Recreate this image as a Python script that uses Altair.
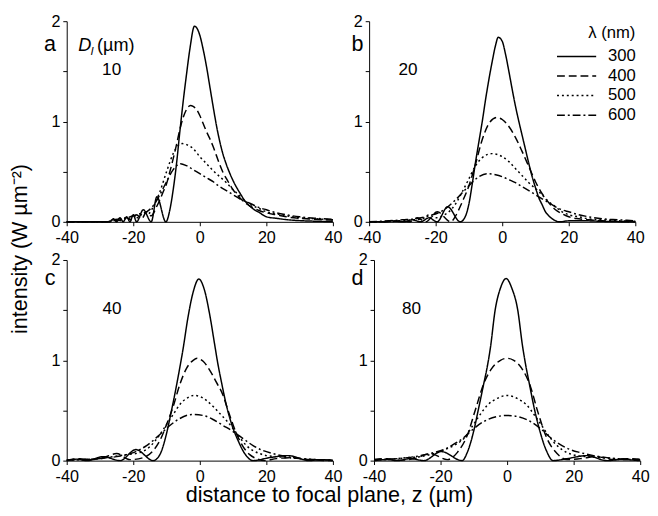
import altair as alt
import pandas as pd

FONT = "Liberation Sans"
LAMBDAS = ["300", "400", "500", "600"]
DASHES = [[1, 0], [8, 4], [2, 3], [8, 3, 2, 3]]

# ---------------- panel a : D = 10 um ----------------
A300_Z = [-40, -27, -26, -25, -24, -23, -22, -21, -20, -19, -17, -14.6, -12.9, -10.2, -9, -8, -7, -6, -5, -4, -3,
          -1.6, 0, 1, 2, 3, 4, 5, 6, 7, 8, 10, 12, 14, 16, 18, 20, 23, 26, 30, 35, 40]
A300_V = [0, 0, 0.03, 0, 0.04, 0, 0.05, 0, 0.07, 0, 0.12, 0, 0.25, 0, 0.12, 0.32, 0.58, 0.9, 1.2, 1.47, 1.72,
          1.95, 1.86, 1.72, 1.55, 1.35, 1.15, 0.96, 0.8, 0.67, 0.57, 0.41, 0.29, 0.19, 0.13, 0.09, 0.05, 0.035,
          0.022, 0.012, 0.006, 0.003]
A400_Z = [-40, -27, -25, -23.5, -22, -20.5, -19, -17.5, -16, -14.6, -13, -12, -11, -10, -9, -8, -7, -6, -5, -4,
          -2.8, -2, -1, 0, 1, 2, 3, 4, 5, 6, 7, 8, 10, 12, 14, 16, 18, 20, 23, 26, 30, 35, 40]
A400_V = [0, 0, 0.02, 0.01, 0.04, 0.02, 0.07, 0.03, 0.1, 0.06, 0.15, 0.22, 0.3, 0.38, 0.5, 0.63, 0.77, 0.92,
          1.04, 1.12, 1.16, 1.15, 1.12, 1.06, 0.98, 0.9, 0.83, 0.75, 0.66, 0.57, 0.49, 0.43, 0.32, 0.24, 0.18,
          0.14, 0.11, 0.09, 0.07, 0.05, 0.035, 0.025, 0.018]
A500_Z = [-40, -28, -26, -24.5, -23, -21.5, -20, -18.5, -17, -15.5, -14, -12, -10, -8, -6.5, -5.3, -4, -2,
          0, 2, 4, 6, 8, 10, 12, 14, 16, 18, 20, 23, 26, 30, 35, 40]
A500_V = [0, 0, 0.02, 0.01, 0.04, 0.02, 0.06, 0.04, 0.09, 0.08, 0.15, 0.3, 0.5, 0.68, 0.76, 0.78, 0.77, 0.73,
          0.65, 0.58, 0.51, 0.45, 0.39, 0.32, 0.26, 0.2, 0.16, 0.13, 0.1, 0.08, 0.06, 0.04, 0.03, 0.02]
A600_Z = [-40, -28, -26, -24, -22, -20, -18, -16, -14, -12, -10, -8, -5.8, -4, -2, 0, 2, 4, 6, 8,
          10, 12, 14, 16, 18, 20, 23, 26, 30, 35, 40]
A600_V = [0, 0, 0.02, 0.03, 0.04, 0.06, 0.08, 0.1, 0.16, 0.27, 0.4, 0.52, 0.58, 0.56, 0.52, 0.48, 0.44, 0.4,
          0.35, 0.31, 0.27, 0.23, 0.2, 0.17, 0.14, 0.12, 0.09, 0.07, 0.05, 0.035, 0.025]

# ---------------- panel b : D = 20 um ----------------
B300_Z = [-40, -36, -33, -30, -27, -24.5, -22, -19.6, -16.4, -12.6, -11, -10, -9, -8, -7, -6, -5, -4, -3, -2,
          -1.2, 0, 1, 2, 3, 4, 5, 6, 7, 8, 9, 10, 11, 12, 13, 14, 15.5, 17.3, 20, 25, 30, 40]
B300_V = [0, 0, 0.01, 0, 0.02, 0, 0.04, 0, 0.15, 0, 0.06, 0.18, 0.38, 0.6, 0.8, 1.0, 1.22, 1.42, 1.6, 1.76,
          1.84, 1.8, 1.67, 1.5, 1.32, 1.15, 1.0, 0.86, 0.72, 0.58, 0.45, 0.34, 0.24, 0.17, 0.1, 0.06, 0.02, 0,
          0.01, 0.01, 0.005, 0]
B400_Z = [-40, -34, -31, -28, -25.5, -23, -19.5, -15.5, -14, -12, -10, -8, -6, -4, -1.6, 0, 2, 4, 6, 8,
          10, 12, 14, 16, 18, 20, 23, 26, 30, 35, 40]
B400_V = [0, 0, 0.01, 0, 0.04, 0, 0.1, 0, 0.06, 0.2, 0.36, 0.58, 0.82, 0.98, 1.04, 1.02, 0.95, 0.84, 0.7, 0.55,
          0.4, 0.28, 0.19, 0.12, 0.08, 0.05, 0.03, 0.02, 0.01, 0.005, 0]
B500_Z = [-40, -33, -30, -27, -24, -22, -20, -18, -16, -14, -12, -10, -8, -6, -3.1, 0, 2, 4, 6, 8,
          10, 12, 14, 16, 18, 20, 23, 26, 30, 35, 40]
B500_V = [0, 0.005, 0.01, 0.02, 0.03, 0.07, 0.04, 0.06, 0.1, 0.18, 0.3, 0.43, 0.56, 0.64, 0.68, 0.65, 0.6, 0.53,
          0.46, 0.39, 0.33, 0.27, 0.2, 0.15, 0.1, 0.07, 0.05, 0.03, 0.02, 0.01, 0.005]
B600_Z = [-40, -34, -30, -26, -22, -18, -14, -10, -7, -4.6, -2, 0, 2, 4, 6, 8, 10, 12, 14, 16,
          18, 20, 23, 26, 30, 35, 40]
B600_V = [0, 0.01, 0.02, 0.03, 0.06, 0.11, 0.22, 0.36, 0.45, 0.48, 0.47, 0.45, 0.42, 0.39, 0.35, 0.31, 0.27,
          0.23, 0.19, 0.15, 0.12, 0.1, 0.07, 0.05, 0.03, 0.02, 0.01]

# ---------------- panel c : D = 40 um ----------------
C300_Z = [-40, -37, -34, -29, -24, -19.2, -14, -12, -10, -8.7, -7, -6, -5, -3.6, -2, -0.3, 1.4, 3, 4.4, 5.4,
          6.4, 8, 9.6, 11.5, 13.5, 16, 21, 26.5, 33, 36, 40]
C300_V = [0, 0.015, 0, 0.04, 0, 0.11, 0, 0.06, 0.27, 0.47, 0.75, 0.93, 1.12, 1.42, 1.68, 1.81, 1.7, 1.45, 1.17,
          0.97, 0.8, 0.55, 0.36, 0.2, 0.07, 0, 0.03, 0.05, 0, 0.01, 0]
C400_Z = [-40, -36, -33, -29, -25, -21, -17, -14, -12, -10, -8, -6, -4, -2, -0.8, 1, 3, 5, 7, 8,
          9, 11, 13, 15, 17, 19.5, 23, 28, 33, 40]
C400_V = [0.005, 0.02, 0.01, 0.03, 0.07, 0.01, 0.03, 0.1, 0.2, 0.36, 0.54, 0.76, 0.92, 1.0, 1.02, 0.99, 0.9,
          0.78, 0.65, 0.55, 0.45, 0.27, 0.14, 0.06, 0.02, 0, 0.02, 0.03, 0.01, 0]
C500_Z = [-40, -35, -30, -26, -22, -18, -15, -12, -10, -8, -6, -4, -1.8, 0, 2, 4, 6, 8, 10, 12,
          14, 16, 18, 20, 23, 26, 30, 35, 40]
C500_V = [0.005, 0.01, 0.02, 0.04, 0.06, 0.08, 0.14, 0.26, 0.36, 0.46, 0.56, 0.62, 0.65, 0.64, 0.6, 0.54, 0.47,
          0.4, 0.32, 0.23, 0.15, 0.1, 0.07, 0.05, 0.04, 0.03, 0.02, 0.01, 0.005]
C600_Z = [-40, -35, -30, -25, -20, -16, -12, -9, -6, -2.3, 1, 4, 7, 10, 13, 16, 19, 22, 26, 30, 35, 40]
C600_V = [0.005, 0.01, 0.02, 0.04, 0.08, 0.15, 0.26, 0.35, 0.42, 0.46, 0.45, 0.41, 0.35, 0.29, 0.22, 0.15, 0.1,
          0.07, 0.04, 0.02, 0.01, 0.005]

# ---------------- panel d : D = 80 um ----------------
D300_Z = [-40, -36, -33, -29, -25, -19.8, -13.5, -12, -10, -8.7, -7, -6, -5, -3.6, -2, -0.3, 1.4, 3.2, 4.6, 5.6,
          6.6, 8.3, 9.8, 11.8, 13.8, 18, 24, 30, 34, 40]
D300_V = [0, 0.01, 0, 0.02, 0, 0.09, 0, 0.08, 0.3, 0.5, 0.77, 0.93, 1.13, 1.5, 1.72, 1.815, 1.72, 1.5, 1.15, 0.95,
          0.78, 0.5, 0.3, 0.1, 0, 0.02, 0.05, 0, 0.01, 0]
D400_Z = [-40, -36, -32, -28, -23, -18, -15, -12, -9.6, -7, -4.6, -2, 0, 2, 4.4, 7, 9.1, 12, 15, 18,
          22, 27, 32, 36, 40]
D400_V = [0.01, 0.02, 0.005, 0.02, 0.07, 0.01, 0.08, 0.25, 0.5, 0.77, 0.92, 1.0, 1.02, 1.0, 0.92, 0.74, 0.5, 0.22,
          0.07, 0.01, 0.02, 0.04, 0.01, 0.02, 0.01]
D500_Z = [-40, -35, -30, -26, -22, -18, -15, -13, -10.5, -8.5, -6, -3, 0, 3, 6, 8.3, 10, 12, 15, 18,
          21, 24, 28, 32, 36, 40]
D500_V = [0.01, 0.015, 0.03, 0.04, 0.07, 0.12, 0.17, 0.22, 0.34, 0.44, 0.55, 0.62, 0.65, 0.62, 0.55, 0.45, 0.37,
          0.27, 0.15, 0.08, 0.05, 0.04, 0.03, 0.02, 0.015, 0.01]
D600_Z = [-40, -35, -30, -26, -22, -19, -16.7, -13, -10.7, -7, -3, 0, 3, 7, 10.7, 13, 16.5, 19, 22, 26, 30, 35, 40]
D600_V = [0.01, 0.015, 0.03, 0.05, 0.08, 0.11, 0.15, 0.23, 0.3, 0.39, 0.44, 0.45, 0.44, 0.39, 0.3, 0.23, 0.15,
          0.11, 0.08, 0.05, 0.03, 0.015, 0.01]

PANEL_LETTERS = ["a", "b", "c", "d"]
PANEL_D = ["10", "20", "40", "80"]
PANEL_SERIES = [
    [(A300_Z, A300_V), (A400_Z, A400_V), (A500_Z, A500_V), (A600_Z, A600_V)],
    [(B300_Z, B300_V), (B400_Z, B400_V), (B500_Z, B500_V), (B600_Z, B600_V)],
    [(C300_Z, C300_V), (C400_Z, C400_V), (C500_Z, C500_V), (C600_Z, C600_V)],
    [(D300_Z, D300_V), (D400_Z, D400_V), (D500_Z, D500_V), (D600_Z, D600_V)],
]

W, H = 272, 205
TICK_FS = 16.5
X_DOMAIN = [-40, 40]
Y_DOMAIN = [0, 2]


def frame(pairs):
    parts = []
    for lam, (zs, vs) in zip(LAMBDAS, pairs):
        parts.append(pd.DataFrame({"z": zs, "v": vs, "lam": lam}))
    return pd.concat(parts, ignore_index=True)


x_axis = alt.Axis(values=list(range(-40, 41, 10)),
                  labelExpr="datum.value % 20 == 0 ? '' + datum.value : ''",
                  title=None, grid=False, tickSize=4, labelFontSize=TICK_FS, labelPadding=4,
                  labelFont=FONT, labelColor="black", domainColor="black", tickColor="black",
                  labelFlush=False, labelOverlap=False)
y_axis = alt.Axis(values=[0, 0.5, 1, 1.5, 2],
                  labelExpr="datum.value % 1 == 0 ? '' + datum.value : ''",
                  title=None, grid=False, tickSize=4, labelFontSize=TICK_FS, labelPadding=3,
                  labelFont=FONT, labelColor="black", domainColor="black", tickColor="black",
                  labelFlush=False, labelOverlap=False)

xs = alt.Scale(domain=X_DOMAIN, nice=False, zero=False)
ys = alt.Scale(domain=Y_DOMAIN, nice=False, zero=False)


def xd(val):
    return {"datum": val, "type": "quantitative",
            "scale": {"domain": X_DOMAIN, "nice": False, "zero": False}}


def yd(val):
    return {"datum": val, "type": "quantitative",
            "scale": {"domain": Y_DOMAIN, "nice": False, "zero": False}}


def note(text, xv, yv, size, style="normal", align="center"):
    return alt.Chart().mark_text(font=FONT, fontSize=size, fontStyle=style, align=align,
                                 baseline="alphabetic", color="black").encode(
        x=xd(xv), y=yd(yv), text=alt.value(text))


def panel(i):
    df = frame(PANEL_SERIES[i])
    if i == 1:
        legend = alt.Legend(title="λ (nm)", orient="none", legendX=201, legendY=4,
                            symbolType="M-2,0H2", symbolSize=400, symbolStrokeWidth=1.5,
                            symbolStrokeColor="black", symbolFillColor="transparent",
                            labelFontSize=17, titleFontSize=17,
                            titleFontWeight="normal", titleFont=FONT, labelFont=FONT,
                            titleAnchor="end", labelOffset=21, rowPadding=1, titlePadding=4,
                            labelColor="black", titleColor="black")
    else:
        legend = None
    lines = alt.Chart(df).mark_line(color="black", strokeWidth=1.5, interpolate="monotone").encode(
        x=alt.X("z:Q", scale=xs, axis=x_axis),
        y=alt.Y("v:Q", scale=ys, axis=y_axis),
        strokeDash=alt.StrokeDash("lam:N", scale=alt.Scale(domain=LAMBDAS, range=DASHES), legend=legend),
        detail="lam:N",
    )
    let_v = 1.707 if i < 2 else 1.75
    letter_x = [-45, -43.5, -45, -45][i]
    dnum_x = [-26.5, -28.3, -26.4, -28.7][i]
    layers = [lines,
              note(PANEL_LETTERS[i], letter_x, let_v, 22),
              note(PANEL_D[i], dnum_x, 1.466, 17.5)]
    if i == 0:
        layers += [note("D", -34.6, 1.707, 18.5, "italic"),
                   note("l", -32.4, 1.665, 12, "italic"),
                   note("(µm)", -30.9, 1.707, 18.5, "normal", "left")]
    return alt.layer(*layers).properties(width=W, height=H)


row1 = alt.hconcat(panel(0), panel(1), spacing=8).resolve_scale(strokeDash="independent")
row2 = alt.hconcat(panel(2), panel(3), spacing=8).resolve_scale(strokeDash="independent")
inner = alt.vconcat(row1, row2, spacing=6).resolve_scale(strokeDash="independent").properties(
    title=alt.TitleParams("intensity (W µm⁻²)", orient="left", anchor="middle", fontSize=22,
                          font=FONT, fontWeight="normal", color="black", offset=12))
chart = alt.vconcat(inner).resolve_scale(strokeDash="independent").properties(
    title=alt.TitleParams("distance to focal plane, z (µm)", orient="bottom", anchor="middle",
                          fontSize=22, font=FONT, fontWeight="normal", color="black", offset=1),
    padding={"left": 1, "top": 0, "right": 0, "bottom": 0},
).configure_view(stroke=None)

chart.save("out.html", embed_options={"renderer": "svg", "actions": False})
